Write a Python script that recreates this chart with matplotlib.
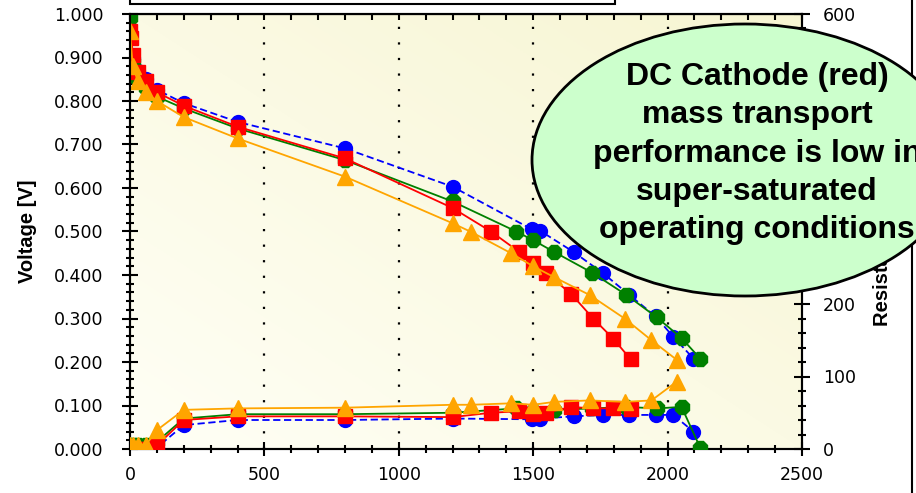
import numpy as np
import matplotlib.pyplot as plt
from matplotlib.patches import Ellipse, Rectangle
from matplotlib.lines import Line2D
from matplotlib.ticker import MultipleLocator

# current density points and cell voltage for each build
blue_x = [0, 10, 30, 60, 100, 200, 400, 800, 1200, 1495, 1525, 1650, 1760, 1858, 1955, 2021, 2096]
blue_v = [0.945, 0.90, 0.868, 0.85, 0.826, 0.795, 0.752, 0.691, 0.603, 0.505, 0.502, 0.453, 0.404, 0.354, 0.305, 0.258, 0.208]
blue_r = [0, 0, 0, 0, 2, 33, 40, 40, 42, 41, 42, 45, 47, 47, 47, 47, 24]

red_x = [0, 5, 10, 30, 60, 100, 200, 400, 800, 1200, 1343, 1448, 1500, 1549, 1642, 1723, 1797, 1863]
red_v = [0.96, 0.945, 0.905, 0.867, 0.845, 0.82, 0.789, 0.741, 0.668, 0.554, 0.50, 0.453, 0.427, 0.404, 0.356, 0.30, 0.254, 0.206]
red_r = [0, 0, 0, 0, 0, 5, 40, 45, 45, 44, 50, 52, 48, 50, 58, 56, 56, 55]

green_x = [0, 10, 30, 60, 100, 200, 400, 800, 1200, 1437, 1500, 1578, 1720, 1847, 1959, 2052, 2121]
green_v = [0.99, 0.89, 0.85, 0.83, 0.81, 0.783, 0.737, 0.664, 0.569, 0.50, 0.48, 0.453, 0.405, 0.354, 0.303, 0.255, 0.208]
green_r = [6, 6, 6, 6, 10, 42, 48, 48, 50, 56, 52, 54, 56, 58, 56, 58, 2]

orange_x = [0, 10, 30, 60, 100, 200, 400, 800, 1200, 1269, 1418, 1500, 1578, 1710, 1840, 1940, 2034]
orange_v = [0.96, 0.88, 0.845, 0.82, 0.80, 0.763, 0.714, 0.626, 0.519, 0.499, 0.45, 0.42, 0.395, 0.354, 0.30, 0.25, 0.205]
orange_r = [6, 6, 6, 6, 26, 54, 56, 57, 61, 61, 63, 61, 65, 67, 65, 67, 93]

note_lines = ["DC Cathode (red)", "mass transport", "performance is low in",
              "super-saturated", "operating conditions"]

W, H = 916, 493
fig = plt.figure(figsize=(W / 100, H / 100), dpi=100)
ax = fig.add_axes([130 / W, 1 - 449 / H, (802 - 130) / W, (449 - 14) / H])

# pale yellow gradient behind the plot
gx, gy = np.meshgrid(np.linspace(0, 1, 200), np.linspace(0, 1, 200))
t = (gx + gy) / 2
c0 = np.array([255, 255, 246]) / 255
c1 = np.array([247, 245, 210]) / 255
grad = c0[None, None, :] * (1 - t[..., None]) + c1[None, None, :] * t[..., None]
ax.imshow(grad, extent=[0, 2500, 1, 0], aspect='auto', zorder=0)

ax.set_xlim(0, 2500)
ax.set_ylim(0, 1)
for xv in [500, 1000, 1500, 2000]:
    ax.axvline(xv, color='black', linestyle=(0, (1, 6)), linewidth=1.6, zorder=1)


def draw(axis, x, y, color, marker, size, ls='-'):
    axis.plot(x, y, color=color, linestyle=ls, linewidth=1.3, marker=marker,
              markersize=size, zorder=3)


draw(ax, blue_x, blue_v, 'blue', 'o', 10, (0, (4, 2)))
draw(ax, green_x, green_v, 'green', '8', 11)
draw(ax, red_x, red_v, 'red', 's', 9.5)
draw(ax, orange_x, orange_v, 'orange', '^', 11)

ax.xaxis.set_major_locator(MultipleLocator(500))
ax.xaxis.set_minor_locator(MultipleLocator(100))
ax.yaxis.set_major_locator(MultipleLocator(0.1))
ax.yaxis.set_minor_locator(MultipleLocator(0.02))
ax.yaxis.set_major_formatter(lambda v, p: f"{v:.3f}")
ax.tick_params(axis='y', which='major', direction='inout', length=12, width=1.5, pad=13, labelsize=12.5)
ax.tick_params(axis='y', which='minor', direction='inout', length=6, width=1.5)
ax.tick_params(axis='x', which='major', direction='inout', length=10, width=1.5, pad=7, labelsize=12.5)
ax.tick_params(axis='x', which='minor', direction='inout', length=6, width=1.5)
for s in ax.spines.values():
    s.set_linewidth(1.5)
ax.set_ylabel("Voltage [V]", fontsize=14.5, fontweight='bold', family='Liberation Sans', labelpad=12)

top = ax.secondary_xaxis('top')
top.xaxis.set_major_locator(MultipleLocator(500))
top.xaxis.set_minor_locator(MultipleLocator(100))
top.tick_params(which='both', direction='in', length=4, width=1.5, labeltop=False)

ax2 = ax.twinx()
ax2.set_ylim(0, 600)
draw(ax2, blue_x, blue_r, 'blue', 'o', 10, (0, (4, 2)))
draw(ax2, green_x, green_r, 'green', '8', 11)
draw(ax2, red_x, red_r, 'red', 's', 9.5)
draw(ax2, orange_x, orange_r, 'orange', '^', 11)
ax2.yaxis.set_major_locator(MultipleLocator(100))
ax2.yaxis.set_minor_locator(MultipleLocator(20))
ax2.tick_params(axis='y', which='major', direction='inout', length=12, width=1.5, pad=9, labelsize=12.5)
ax2.tick_params(axis='y', which='minor', direction='inout', length=6, width=1.5)
ax2.set_ylabel("Resistance [mOhm]", fontsize=14.5, fontweight='bold', family='Liberation Sans',
               labelpad=12)
for s in ax2.spines.values():
    s.set_linewidth(1.5)

# legend frame cut off at the top edge
fig.add_artist(Rectangle((130 / W, 1 - 4 / H), (615 - 130) / W, 20 / H, transform=fig.transFigure,
                         facecolor='white', edgecolor='black', linewidth=1.5, zorder=6))
fig.add_artist(Line2D([912 / W, 912 / W], [0, 1], transform=fig.transFigure,
                      color='black', linewidth=1.5, zorder=6))

# callout
fig.add_artist(Ellipse((745 / W, 1 - 160 / H), 2 * 213 / W, 2 * 136 / H, transform=fig.transFigure,
                       facecolor='#ccffcc', edgecolor='black', linewidth=2, zorder=10))
for i, line in enumerate(note_lines):
    fig.text(757 / W, 1 - (85 + 38.3 * i) / H, line, ha='center', va='baseline',
             fontsize=23, fontweight='bold', family='Liberation Sans', zorder=11)

fig.savefig("out.png", dpi=100)
